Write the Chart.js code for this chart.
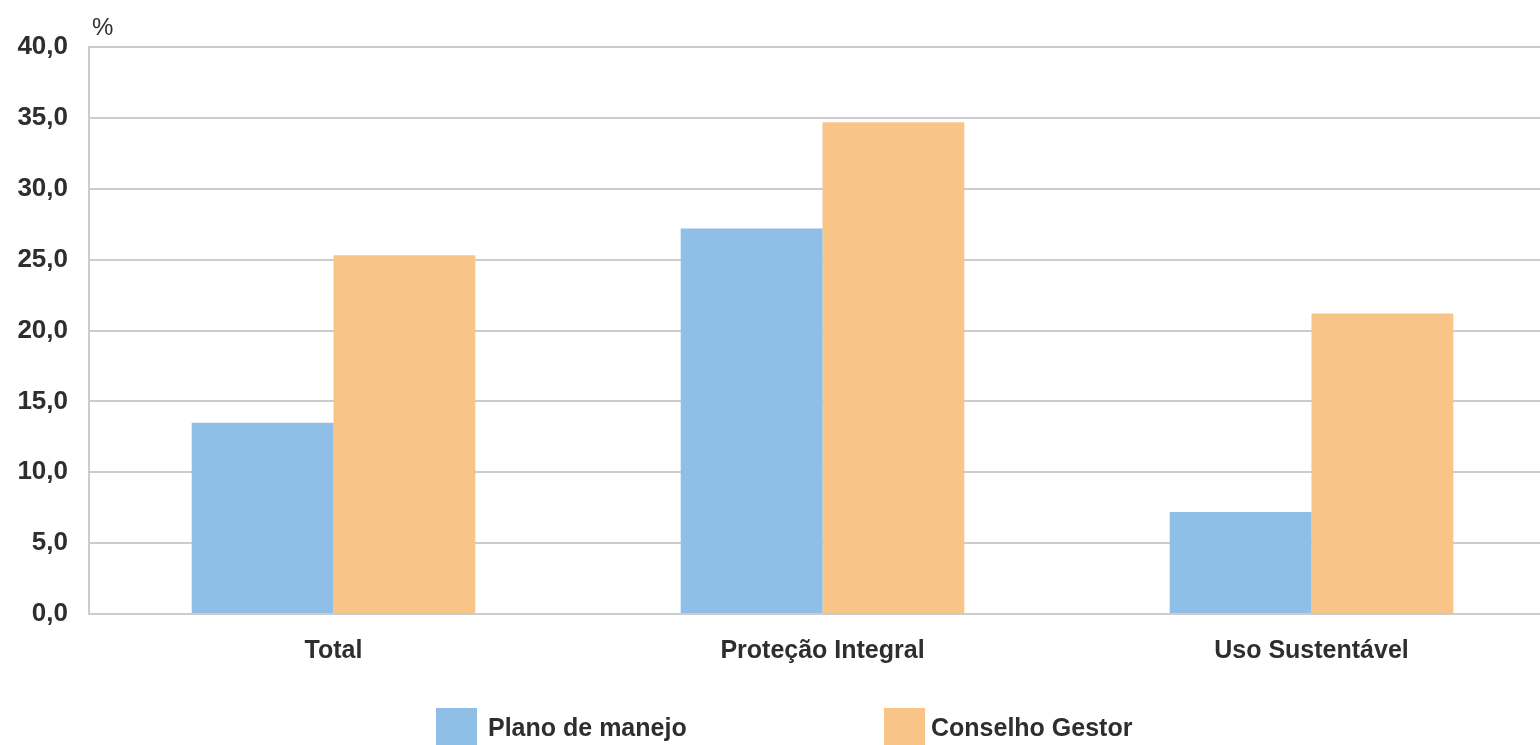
<!DOCTYPE html>
<html lang="pt">
<head>
<meta charset="UTF-8">
<title>Plano de manejo e Conselho Gestor</title>
<script src="https://cdn.jsdelivr.net/npm/chart.js"></script>
<style>
    html, body { margin: 0; padding: 0; background: #fff; overflow: hidden; }
    .wrap { position: relative; width: 1560px; height: 745px; }
    .legend { position: absolute; top: 708px; left: 0; font-family: "Liberation Sans", Arial, sans-serif; font-weight: bold; font-size: 25px; color: #2e2e2e; }
    .legend span { position: absolute; white-space: nowrap; top: 5px; }
    .legend i { position: absolute; top: 0; width: 41px; height: 40px; }
</style>
</head>
<body>
<div class="wrap">
    <canvas id="chart" width="1560" height="745"></canvas>
    <div class="legend">
        <i style="left:436px;background:#8fbfe6"></i><span style="left:488px">Plano de manejo</span>
        <i style="left:884px;background:#f8c488"></i><span style="left:931px">Conselho Gestor</span>
    </div>
</div>
<script>
const categories = ['Total', 'Proteção Integral', 'Uso Sustentável'];
const planoManejo = [13.5, 27.2, 7.2];
const conselhoGestor = [25.3, 34.7, 21.2];
const yTicks = [0, 5, 10, 15, 20, 25, 30, 35, 40];

const xFont = { family: '"Liberation Sans", Arial, sans-serif', size: 25, weight: 'bold' };
const yFont = { family: '"Liberation Sans", Arial, sans-serif', size: 26, weight: 'bold' };

// "%" above the y axis
const unitLabel = {
    id: 'unitLabel',
    afterDraw(chart) {
        const ctx = chart.ctx;
        ctx.save();
        ctx.font = '24px "Liberation Sans", Arial, sans-serif';
        ctx.fillStyle = '#2e2e2e';
        ctx.textBaseline = 'alphabetic';
        ctx.fillText('%', chart.chartArea.left + 3, 35);
        ctx.restore();
    }
};

new Chart(document.getElementById('chart'), {
    type: 'bar',
    data: {
        labels: categories,
        datasets: [
            { label: 'Plano de manejo', data: planoManejo, backgroundColor: '#8fbfe6' },
            { label: 'Conselho Gestor', data: conselhoGestor, backgroundColor: '#f8c488' }
        ]
    },
    options: {
        responsive: false,
        animation: false,
        layout: { padding: { top: 47, right: 4, left: 0, bottom: 0 } },
        datasets: { bar: { barPercentage: 1, categoryPercentage: 0.58 } },
        plugins: { legend: { display: false }, tooltip: { enabled: false } },
        scales: {
            x: {
                grid: { display: false },
                border: { display: true, color: '#cccccc', width: 2 },
                ticks: { font: xFont, color: '#2e2e2e', padding: 14 },
                afterFit(scale) { scale.height = 131; }
            },
            y: {
                min: 0,
                max: 40,
                afterBuildTicks(scale) { scale.ticks = yTicks.map(v => ({ value: v })); },
                grid: { color: '#cccccc', lineWidth: 2, drawTicks: false },
                border: { display: true, color: '#cccccc', width: 2 },
                ticks: {
                    font: yFont,
                    color: '#2e2e2e',
                    padding: 21,
                    callback: v => v.toFixed(1).replace('.', ',')
                },
                afterFit(scale) { scale.width = 89; }
            }
        }
    },
    plugins: [unitLabel]
});
</script>
</body>
</html>
